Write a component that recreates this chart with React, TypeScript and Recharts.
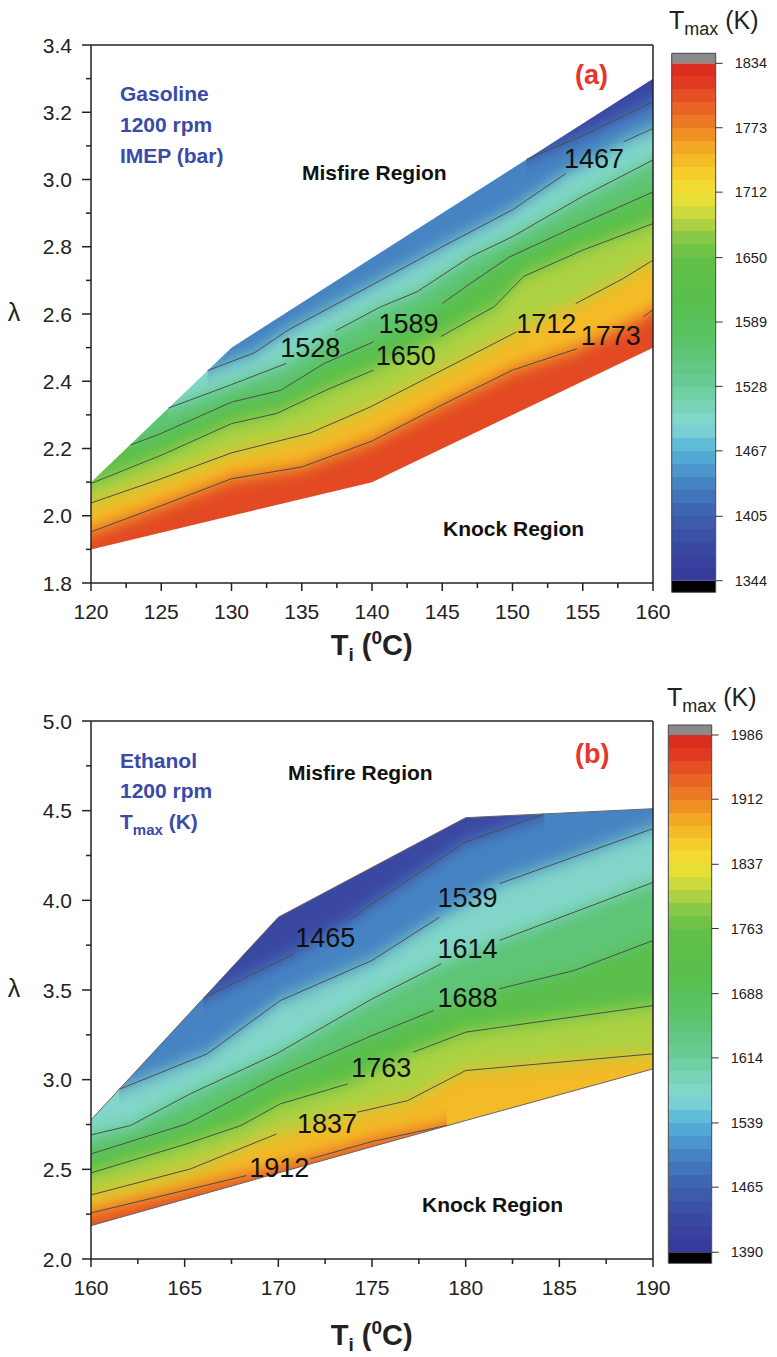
import React from 'react';
import { ComposedChart, Area, Line, XAxis, YAxis, ReferenceLine, ReferenceDot, ReferenceArea } from 'recharts';

type Pt = [number, number | null];

// ---------------- Panel (a): Gasoline ----------------
const aXMajor = [120, 125, 130, 135, 140, 145, 150, 155, 160];
const aXMinor = [122.5, 127.5, 132.5, 137.5, 142.5, 147.5, 152.5, 157.5];
const aYMajor = [1.8, 2.0, 2.2, 2.4, 2.6, 2.8, 3.0, 3.2, 3.4];
const aYMinor = [1.9, 2.1, 2.3, 2.5, 2.7, 2.9, 3.1, 3.3];
const aBarTicks = [1344, 1405, 1467, 1528, 1589, 1650, 1712, 1773, 1834];
const aMisfire: Pt[] = [[120, 2.1], [130, 2.5], [160, 3.3]];
const aKnock: Pt[] = [[120, 1.9], [130, 2.0], [140, 2.1], [160, 2.5]];
const a1773: Pt[] = [[120, 1.952], [125, 2.03], [130, 2.11], [135, 2.145], [140, 2.222], [145, 2.33], [150, 2.433], [154.6, 2.497], [157, null], [159.3, 2.591], [160, 2.613]];
const a1712: Pt[] = [[120, 2.038], [125, 2.11], [130, 2.187], [135.6, 2.246], [139.9, 2.324], [145, 2.433], [150.3, 2.547], [152.4, null], [154.5, 2.631], [157.9, 2.706], [160, 2.76]];
const a1650: Pt[] = [[120, 2.096], [125, 2.18], [130, 2.274], [133.2, 2.304], [136.7, 2.373], [140.1, 2.433], [142.4, null], [144.9, 2.533], [148.7, 2.622], [150.8, 2.712], [155, 2.79], [160, 2.869]];
const a1589: Pt[] = [[122.8, 2.21], [125, 2.245], [130, 2.338], [133.5, 2.373], [136.6, 2.453], [140.1, 2.517], [142.6, null], [145, 2.631], [147, 2.691], [149.8, 2.77], [155, 2.87], [160, 2.963]];
const a1528: Pt[] = [[125.5, 2.32], [130, 2.39], [133.9, 2.453], [135.6, null], [137.4, 2.55], [140.6, 2.621], [143.2, 2.666], [147, 2.77], [150, 2.83], [155, 2.95], [160, 3.058]];
const a1467: Pt[] = [[128.3, 2.432], [131.6, 2.484], [133.2, 2.529], [134.1, 2.554], [140.6, 2.7], [145, 2.8], [150, 2.91], [153.8, 3.018], [155.8, null], [157.9, 3.112], [160, 3.152]];
const a1405: Pt[] = [[151, 3.06], [155, 3.13], [160, 3.231]];
const aLabels = [
  { t: 1467, x: 155.8, y: 3.062 }, { t: 1528, x: 135.6, y: 2.5 }, { t: 1589, x: 142.6, y: 2.573 },
  { t: 1650, x: 142.4, y: 2.477 }, { t: 1712, x: 152.4, y: 2.573 }, { t: 1773, x: 157.0, y: 2.535 },
];

// ---------------- Panel (b): Ethanol ----------------
const bXMajor = [160, 165, 170, 175, 180, 185, 190];
const bXMinor = [162.5, 167.5, 172.5, 177.5, 182.5, 187.5];
const bYMajor = [2.0, 2.5, 3.0, 3.5, 4.0, 4.5, 5.0];
const bYMinor = [2.25, 2.75, 3.25, 3.75, 4.25, 4.75];
const bBarTicks = [1390, 1465, 1539, 1614, 1688, 1763, 1837, 1912, 1986];
const bMisfire: Pt[] = [[160, 2.776], [170, 3.906], [180, 4.461], [190, 4.511]];
const bKnock: Pt[] = [[160, 2.186], [170, 2.48], [180, 2.772], [190, 3.06]];
const b1912: Pt[] = [[160, 2.257], [165.3, 2.39], [168.3, 2.465], [170.05, null], [171.7, 2.558], [175, 2.655], [179, 2.745]];
const b1837: Pt[] = [[160, 2.357], [165.3, 2.502], [169.9, 2.697], [172.6, null], [174.2, 2.818], [176.9, 2.883], [180, 3.051], [190, 3.144]];
const b1763: Pt[] = [[160, 2.48], [165.1, 2.642], [168, 2.744], [170.1, 2.865], [173.7, 2.976], [175.5, null], [177.2, 3.153], [180, 3.265], [190, 3.413]];
const b1688: Pt[] = [[160, 2.586], [165.1, 2.753], [169.9, 3.013], [175, 3.246], [178.3, 3.386], [180.1, null], [181.8, 3.507], [185.8, 3.609], [190, 3.776]];
const b1614: Pt[] = [[160, 2.692], [162.1, 2.744], [165.3, 2.921], [169.9, 3.144], [175, 3.45], [178.7, 3.646], [180.1, null], [181.8, 3.776], [190, 4.1]];
const b1539: Pt[] = [[161.5, 2.946], [166.2, 3.144], [170.1, 3.441], [175, 3.665], [178.6, 3.906], [180.1, null], [181.8, 4.093], [185, 4.213], [190, 4.4]];
const b1465: Pt[] = [[166, 3.454], [170.8, 3.7], [172.5, null], [173.8, 3.888], [175, 3.98], [180, 4.325], [184.2, 4.482]];
const bLabels = [
  { t: 1465, x: 172.5, y: 3.79 }, { t: 1539, x: 180.1, y: 4.018 }, { t: 1614, x: 180.1, y: 3.732 },
  { t: 1688, x: 180.1, y: 3.46 }, { t: 1763, x: 175.5, y: 3.067 }, { t: 1837, x: 172.6, y: 2.758 },
  { t: 1912, x: 170.05, y: 2.511 },
];

// ---------------- styling ----------------
const FONT = '"Liberation Sans", Arial, Helvetica, sans-serif';
const AX = '#222';
const BLUE = '#3a4aa8';
const RED = '#e8342a';

const STOPS: [number, string][] = [
  [0.0, '#35379a'], [0.07, '#3a4aa2'], [0.13, '#3e62ad'], [0.19, '#4684c3'], [0.25, '#55b3d9'],
  [0.3, '#86d8d3'], [0.375, '#6acd9c'], [0.44, '#5ec574'], [0.5, '#57c158'], [0.56, '#5abf4b'],
  [0.625, '#63c047'], [0.67, '#92ca47'], [0.7, '#bed740'], [0.73, '#e2df38'], [0.75, '#efe034'],
  [0.785, '#f5d02c'], [0.83, '#f4ae24'], [0.875, '#ee8424'], [0.92, '#e85f26'], [0.96, '#e03b22'], [1.0, '#d8261f'],
];
function hexToRgb(h: string) {
  const n = parseInt(h.slice(1), 16);
  return [(n >> 16) & 255, (n >> 8) & 255, n & 255];
}
function cmap(f: number) {
  const g = Math.max(0, Math.min(1, f));
  for (let i = 0; i < STOPS.length - 1; i++) {
    const [f0, c0] = STOPS[i];
    const [f1, c1] = STOPS[i + 1];
    if (g <= f1) {
      const t = (g - f0) / (f1 - f0);
      const a = hexToRgb(c0), b = hexToRgb(c1);
      return `rgb(${a.map((v, k) => Math.round(v + (b[k] - v) * t)).join(',')})`;
    }
  }
  return STOPS[STOPS.length - 1][1];
}

const toObj = (arr: Pt[]) => arr.map(([x, y]) => ({ x, y }));
const solid = (arr: Pt[]) => arr.filter((p) => p[1] !== null).map(([x, y]) => ({ x, y: y as number }));

type Contour = { level: number; pts: Pt[]; side: 'above' | 'below' };
type Lab = { t: number; x: number; y: number };

function makeXTick(major: number[]) {
  return (props: any) => {
    const { x, y, payload } = props;
    const v = payload.value;
    const isMajor = major.some((m) => Math.abs(m - v) < 1e-6);
    return (
      <g>
        <line x1={x} x2={x} y1={y} y2={y + (isMajor ? 8 : 5)} stroke={AX} strokeWidth={1.5} />
        {isMajor && (
          <text x={x} y={y + 36} textAnchor="middle" fontSize={21} fontFamily={FONT} fill={AX}>{v}</text>
        )}
      </g>
    );
  };
}
function makeYTick(major: number[]) {
  return (props: any) => {
    const { x, y, payload } = props;
    const v = payload.value;
    const isMajor = major.some((m) => Math.abs(m - v) < 1e-6);
    return (
      <g>
        <line x1={x - (isMajor ? 9 : 5)} x2={x} y1={y} y2={y} stroke={AX} strokeWidth={1.5} />
        {isMajor && (
          <text x={x - 19} y={y + 7.5} textAnchor="end" fontSize={21} fontFamily={FONT} fill={AX}>{v.toFixed(1)}</text>
        )}
      </g>
    );
  };
}

function Panel(p: {
  top: number; xDom: [number, number]; yDom: [number, number];
  xMajor: number[]; xMinor: number[]; yMajor: number[]; yMinor: number[];
  misfire: Pt[]; knock: Pt[]; contours: Contour[]; labels: Lab[];
  tMin: number; tMax: number; baseT: number; outline: boolean;
}) {
  const step = (p.tMax - p.tMin) / 8;
  const col = (t: number) => cmap((t - p.tMin) / (p.tMax - p.tMin));
  const [y0, y1] = p.yDom;
  return (
    <div style={{ position: 'absolute', left: 0, top: p.top }}>
      <ComposedChart width={777} height={660} margin={{ top: 45, right: 124, bottom: 0, left: 0 }}>
        <Area data={solid(p.knock)} dataKey={() => [y0, y1]} type="linear" fill={col(p.baseT)} fillOpacity={1} stroke="none" isAnimationActive={false} />
        {p.contours.map((c) => {
          const mid = c.side === 'above' ? c.level - step / 2 : c.level + step / 2;
          return (
            <Area
              key={'r' + c.level}
              className="vb"
              filter="url(#vblur)"
              data={solid(c.pts)}
              dataKey={c.side === 'above' ? (d: any) => [d.y, y1] : (d: any) => [y0, d.y]}
              type="linear"
              fill={col(mid)}
              fillOpacity={1}
              stroke="none"
              isAnimationActive={false}
            />
          );
        })}
        <Area data={solid(p.misfire)} dataKey={(d: any) => [d.y, y1]} type="linear" fill="#fff" fillOpacity={1} stroke="none" isAnimationActive={false} />
        <Area data={solid(p.knock)} dataKey={(d: any) => [y0, d.y]} type="linear" fill="#fff" fillOpacity={1} stroke="none" isAnimationActive={false} />
        {p.contours.map((c) => (
          <Line key={'l' + c.level} data={toObj(c.pts)} dataKey="y" type="linear" stroke="#4d4d4d" strokeWidth={1} dot={false} activeDot={false} connectNulls={false} isAnimationActive={false} />
        ))}
        {p.outline && (
          <Line data={toObj(p.misfire)} dataKey="y" type="linear" stroke="#666" strokeWidth={1} dot={false} activeDot={false} isAnimationActive={false} />
        )}
        {p.outline && (
          <Line data={toObj(p.knock)} dataKey="y" type="linear" stroke="#666" strokeWidth={1} dot={false} activeDot={false} isAnimationActive={false} />
        )}
        {p.labels.map((l) => (
          <ReferenceDot
            key={'t' + l.t}
            x={l.x}
            y={l.y}
            r={1}
            shape={(sp: any) => (
              <text x={sp.cx} y={sp.cy + 9.5} textAnchor="middle" fontSize={27} fontFamily={FONT} fill="#111">{l.t}</text>
            )}
          />
        ))}
        <ReferenceLine y={y1} stroke={AX} strokeWidth={1.5} />
        <ReferenceLine x={p.xDom[1]} stroke={AX} strokeWidth={1.5} />
        <XAxis
          type="number" dataKey="x" domain={p.xDom} allowDataOverflow
          ticks={[...p.xMajor, ...p.xMinor].sort((a, b) => a - b)} interval={0}
          tickSize={0} tickMargin={0} tickLine={false} height={77}
          axisLine={{ stroke: AX, strokeWidth: 1.5 }} tick={makeXTick(p.xMajor)}
        />
        <YAxis
          type="number" domain={p.yDom} allowDataOverflow
          ticks={[...p.yMajor, ...p.yMinor].sort((a, b) => a - b)} interval={0}
          tickSize={0} tickMargin={0} tickLine={false} width={91}
          axisLine={{ stroke: AX, strokeWidth: 1.5 }} tick={makeYTick(p.yMajor)}
        />
      </ComposedChart>
    </div>
  );
}

const BAR = [{ x: 0 }, { x: 1 }];
function ColorBar(p: {
  left: number; top: number; w: number; h: number; ml: number; mt: number; mr: number; mb: number;
  tMin: number; tMax: number; capLo: number; capHi: number; ticks: number[];
}) {
  return (
    <div style={{ position: 'absolute', left: p.left, top: p.top }}>
      <ComposedChart width={p.w} height={p.h} margin={{ top: p.mt, right: p.mr, bottom: p.mb, left: p.ml }}>
        <XAxis type="number" dataKey="x" domain={[0, 1]} hide allowDataOverflow />
        <YAxis
          type="number" orientation="right" domain={[p.capLo, p.capHi]} allowDataOverflow
          ticks={p.ticks} interval={0} width={60} axisLine={false}
          tickSize={7} tickMargin={12} tickLine={{ stroke: '#333', strokeWidth: 1 }}
          tick={{ fontSize: 14.5, fill: '#222', fontFamily: FONT }}
        />
        <Area data={BAR} dataKey={() => [p.capLo, p.tMin]} type="linear" fill="#000" fillOpacity={1} stroke="none" isAnimationActive={false} />
        <Area data={BAR} dataKey={() => [p.tMin, p.tMax]} type="linear" fill="url(#cbGrad)" fillOpacity={1} stroke="none" isAnimationActive={false} />
        <Area data={BAR} dataKey={() => [p.tMax, p.capHi]} type="linear" fill="#8a8a8a" fillOpacity={1} stroke="none" isAnimationActive={false} />
        <ReferenceArea x1={0} x2={1} y1={p.capLo} y2={p.capHi} fill="none" stroke="#444" strokeWidth={1} />
      </ComposedChart>
    </div>
  );
}

const aContours: Contour[] = [
  { level: 1773, pts: a1773, side: 'above' }, { level: 1712, pts: a1712, side: 'above' },
  { level: 1650, pts: a1650, side: 'above' }, { level: 1589, pts: a1589, side: 'above' },
  { level: 1528, pts: a1528, side: 'above' }, { level: 1467, pts: a1467, side: 'above' },
  { level: 1405, pts: a1405, side: 'above' },
];
const bContours: Contour[] = [
  { level: 1912, pts: b1912, side: 'below' }, { level: 1837, pts: b1837, side: 'above' },
  { level: 1763, pts: b1763, side: 'above' }, { level: 1688, pts: b1688, side: 'above' },
  { level: 1614, pts: b1614, side: 'above' }, { level: 1539, pts: b1539, side: 'above' },
  { level: 1465, pts: b1465, side: 'above' },
];

export default function App() {
  const NLEV = 40;
  const cbStops: React.ReactNode[] = [];
  for (let i = 0; i < NLEV; i++) {
    const c = cmap((i + 0.5) / NLEV);
    cbStops.push(<stop key={'a' + i} offset={i / NLEV} stopColor={c} />);
    cbStops.push(<stop key={'b' + i} offset={(i + 1) / NLEV} stopColor={c} />);
  }
  const txt = { fontFamily: FONT };
  return (
    <div style={{ position: 'absolute', left: 0, top: 0, width: 777, height: 1357, background: '#fff', overflow: 'hidden' }}>
      <style>{`.vb path{filter:url(#vblur);} .vb .recharts-area-area{filter:url(#vblur);}`}</style>
      <svg width={1} height={1} style={{ position: 'absolute', left: 0, top: 0 }}>
        <defs>
          <filter id="vblur" x="-5%" y="-50%" width="110%" height="200%" colorInterpolationFilters="sRGB">
            <feGaussianBlur stdDeviation="0.01 8.5" />
          </filter>
          <linearGradient id="cbGrad" x1="0" y1="1" x2="0" y2="0">{cbStops}</linearGradient>
        </defs>
      </svg>
      <Panel top={0} xDom={[120, 160]} yDom={[1.8, 3.4]} xMajor={aXMajor} xMinor={aXMinor} yMajor={aYMajor} yMinor={aYMinor}
        misfire={aMisfire} knock={aKnock} contours={aContours} labels={aLabels} tMin={1344} tMax={1834} baseT={1806} outline={false} />
      <Panel top={676} xDom={[160, 190]} yDom={[2.0, 5.0]} xMajor={bXMajor} xMinor={bXMinor} yMajor={bYMajor} yMinor={bYMinor}
        misfire={bMisfire} knock={bKnock} contours={bContours} labels={bLabels} tMin={1390} tMax={1986} baseT={1875} outline={true} />
      <ColorBar left={660} top={40} w={117} h={570} ml={11.7} mt={13.3} mr={1.3} mb={17.7}
        tMin={1344} tMax={1834} capLo={1333} capHi={1843.5} ticks={aBarTicks} />
      <ColorBar left={656} top={712} w={121} h={570} ml={12.3} mt={13} mr={5.3} mb={18.7}
        tMin={1390} tMax={1986} capLo={1377.3} capHi={1997.5} ticks={bBarTicks} />
      <svg width={777} height={1357} style={{ position: 'absolute', left: 0, top: 0, pointerEvents: 'none' }}>
        {/* panel a texts */}
        <g {...txt} fontWeight="bold" fontSize={21} fill={BLUE}>
          <text x={120} y={100.7}>Gasoline</text>
          <text x={120} y={131.7}>1200 rpm</text>
          <text x={120} y={162.5}>IMEP (bar)</text>
        </g>
        <g {...txt} fontWeight="bold" fontSize={21} fill="#111">
          <text x={302} y={180}>Misfire Region</text>
          <text x={443} y={536}>Knock Region</text>
        </g>
        <text {...txt} x={575} y={84} fontSize={27} fontWeight="bold" fill={RED}>(a)</text>
        <text {...txt} x={14} y={321} fontSize={25} textAnchor="middle" fill={AX}>λ</text>
        <text {...txt} x={371.7} y={655} fontSize={29} fontWeight="bold" textAnchor="middle" fill={AX}>
          T<tspan fontSize={19} dy={6}>i</tspan><tspan dy={-6}> (</tspan><tspan fontSize={19} dy={-11}>0</tspan><tspan dy={11}>C)</tspan>
        </text>
        <text {...txt} x={669} y={29} fontSize={25} fill={AX}>
          T<tspan fontSize={18} dy={6}>max</tspan><tspan dy={-6}> (K)</tspan>
        </text>
        {/* panel b texts */}
        <g {...txt} fontWeight="bold" fontSize={21} fill={BLUE}>
          <text x={120} y={768.3}>Ethanol</text>
          <text x={120} y={798.3}>1200 rpm</text>
          <text x={120} y={829}>T<tspan fontSize={15} dy={6}>max</tspan><tspan dy={-6}> (K)</tspan></text>
        </g>
        <g {...txt} fontWeight="bold" fontSize={21} fill="#111">
          <text x={288} y={780}>Misfire Region</text>
          <text x={422} y={1211.7}>Knock Region</text>
        </g>
        <text {...txt} x={575} y={763.3} fontSize={27} fontWeight="bold" fill={RED}>(b)</text>
        <text {...txt} x={14} y={997} fontSize={25} textAnchor="middle" fill={AX}>λ</text>
        <text {...txt} x={371.7} y={1345} fontSize={29} fontWeight="bold" textAnchor="middle" fill={AX}>
          T<tspan fontSize={19} dy={6}>i</tspan><tspan dy={-6}> (</tspan><tspan fontSize={19} dy={-11}>0</tspan><tspan dy={11}>C)</tspan>
        </text>
        <text {...txt} x={667} y={706} fontSize={25} fill={AX}>
          T<tspan fontSize={18} dy={6}>max</tspan><tspan dy={-6}> (K)</tspan>
        </text>
      </svg>
    </div>
  );
}
